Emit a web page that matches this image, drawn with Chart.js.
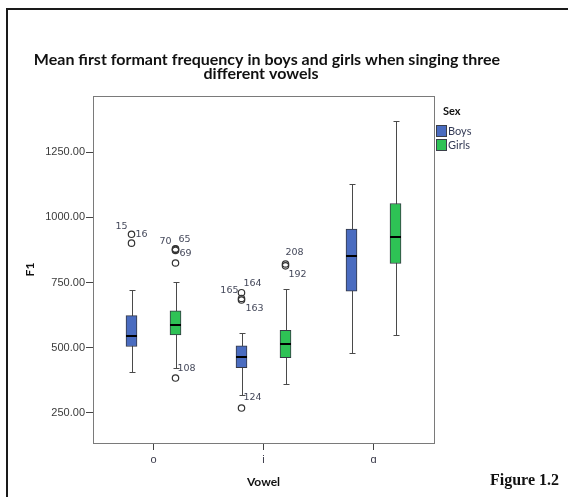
<!DOCTYPE html>
<html>
<head>
<meta charset="utf-8">
<script src="https://cdn.jsdelivr.net/npm/chart.js@4.4.0/dist/chart.umd.min.js"></script>
<style>
  html, body { margin: 0; padding: 0; background: #fff; }
  #wrap { width: 568px; height: 497px; }
</style>
</head>
<body>
<div id="wrap"><canvas id="chart"></canvas></div>
<script>
// categories and ticks
const vowels = ["o", "i", "ɑ"];
const sexes = ["Boys", "Girls"];
const yTicks = [250, 500, 750, 1000, 1250];

// box plot summaries (per vowel)
const boysLow = [407, 319, 479];
const boysQ1 = [505, 424, 717];
const boysMedian = [545, 466, 851];
const boysQ3 = [623, 507, 955];
const boysHigh = [721, 558, 1127];

const girlsLow = [424, 362, 549];
const girlsQ1 = [549, 462, 823];
const girlsMedian = [586, 513, 924];
const girlsQ3 = [642, 567, 1053];
const girlsHigh = [752, 724, 1369];

// outliers: vowel index, sex index, value, case label
const outVowel = [0, 0, 0, 0, 0, 0, 0, 1, 1, 1, 1, 1, 1];
const outSex = [0, 0, 1, 1, 1, 1, 1, 0, 0, 0, 0, 1, 1];
const outValue = [935, 901, 879, 877, 873, 825, 384, 711, 689, 683, 269, 821, 814];
const outLabel = ["16", "15", "65", "70", "69", "", "108", "164", "165", "163", "124", "208", "192"];

// label placement (style only)
const labelDx = [4, -4, 3, -4, 4, 0, 2, 2, -3, 4, 2, 0, 3];
const labelDy = [0, -17, -9, -8, 3, 0, -10, -9, -8, 9, -11, -11, 9];
const labelAlign = ["left", "right", "left", "right", "left", "left", "left", "left", "right", "left", "left", "left", "left"];

const colors = ["#4a6cc0", "#2ec255"];
const sexOffset = [-0.2, 0.2];

const stats = [
  { low: boysLow, q1: boysQ1, med: boysMedian, q3: boysQ3, high: boysHigh },
  { low: girlsLow, q1: girlsQ1, med: girlsMedian, q3: girlsQ3, high: girlsHigh }
];

const boxDatasets = sexes.map((s, k) => ({
  type: "bar",
  label: s,
  data: vowels.map((v, i) => ({ x: i + 1 + sexOffset[k], y: [stats[k].q1[i], stats[k].q3[i]] })),
  backgroundColor: colors[k],
  borderColor: "#353844",
  borderWidth: 1,
  borderSkipped: false,
  barThickness: 11,
  grouped: false,
  order: 2
}));

const outlierSet = {
  type: "scatter",
  label: "outliers",
  data: outValue.map((v, j) => ({ x: outVowel[j] + 1 + sexOffset[outSex[j]], y: v })),
  pointRadius: 3.2,
  pointBackgroundColor: "rgba(0,0,0,0)",
  pointBorderColor: "#333",
  pointBorderWidth: 1.2,
  order: 1
};

const boxParts = {
  id: "boxParts",
  beforeDatasetsDraw(chart) {
    const ctx = chart.ctx, xs = chart.scales.x, ys = chart.scales.y;
    ctx.save();
    ctx.strokeStyle = "#4a4a4a";
    ctx.lineWidth = 1;
    stats.forEach((st, k) => {
      vowels.forEach((v, i) => {
        const x = Math.round(xs.getPixelForValue(i + 1 + sexOffset[k])) + 0.5;
        const yl = Math.round(ys.getPixelForValue(st.low[i])) + 0.5;
        const yh = Math.round(ys.getPixelForValue(st.high[i])) + 0.5;
        ctx.beginPath();
        ctx.moveTo(x, yl); ctx.lineTo(x, yh);
        ctx.moveTo(x - 3, yl); ctx.lineTo(x + 3, yl);
        ctx.moveTo(x - 3, yh); ctx.lineTo(x + 3, yh);
        ctx.stroke();
      });
    });
    ctx.restore();
  },
  afterDatasetsDraw(chart) {
    const ctx = chart.ctx, xs = chart.scales.x, ys = chart.scales.y;
    ctx.save();
    ctx.strokeStyle = "#000";
    ctx.lineWidth = 2;
    stats.forEach((st, k) => {
      vowels.forEach((v, i) => {
        const x = xs.getPixelForValue(i + 1 + sexOffset[k]);
        const y = Math.round(ys.getPixelForValue(st.med[i]));
        ctx.beginPath();
        ctx.moveTo(x - 5.5, y); ctx.lineTo(x + 5.5, y);
        ctx.stroke();
      });
    });
    ctx.font = '9.5px "DejaVu Sans"';
    ctx.fillStyle = "#44485a";
    ctx.textBaseline = "middle";
    outValue.forEach((v, j) => {
      if (!outLabel[j]) return;
      const x = xs.getPixelForValue(outVowel[j] + 1 + sexOffset[outSex[j]]);
      const y = ys.getPixelForValue(v);
      ctx.textAlign = labelAlign[j];
      ctx.fillText(outLabel[j], x + labelDx[j], y + labelDy[j]);
    });
    ctx.restore();
  },
  afterDraw(chart) {
    const ctx = chart.ctx, a = chart.chartArea;
    ctx.save();
    // plot frame
    ctx.strokeStyle = "#7a7a7a";
    ctx.lineWidth = 1;
    ctx.strokeRect(Math.round(a.left) + 0.5, Math.round(a.top) + 0.5, Math.round(a.right - a.left), Math.round(a.bottom - a.top));
    // outer page frame
    ctx.strokeStyle = "#1a1a1a";
    ctx.lineWidth = 2;
    ctx.beginPath();
    ctx.moveTo(7, 497); ctx.lineTo(7, 9); ctx.lineTo(568, 9);
    ctx.stroke();
    // title
    ctx.fillStyle = "#111";
    ctx.textAlign = "center";
    ctx.textBaseline = "middle";
    ctx.font = 'bold 16px Lato';
    ctx.fillText("Mean first formant frequency in boys and girls when singing three", 267, 60);
    ctx.fillText("different vowels", 261, 74);
    // legend
    ctx.textAlign = "left";
    ctx.font = 'bold 11px Lato';
    ctx.fillText("Sex", 443, 111);
    ctx.font = '11px Lato';
    sexes.forEach((s, k) => {
      const y = 125 + k * 14;
      ctx.fillStyle = colors[k];
      ctx.fillRect(436, y, 10, 11);
      ctx.strokeStyle = "#3b3f4a";
      ctx.lineWidth = 1;
      ctx.strokeRect(436.5, y + 0.5, 10, 11);
      ctx.fillStyle = "#333a55";
      ctx.fillText(s, 448, y + 6);
    });
    // figure label
    ctx.fillStyle = "#111";
    ctx.font = 'bold 16px "Liberation Serif"';
    ctx.fillText("Figure 1.2", 490, 481);
    ctx.restore();
  }
};

new Chart(document.getElementById("chart"), {
  type: "scatter",
  data: { datasets: [...boxDatasets, outlierSet] },
  options: {
    responsive: true,
    maintainAspectRatio: false,
    animation: false,
    layout: { padding: { top: 96, left: 23, right: 134, bottom: 8 } },
    plugins: { legend: { display: false }, tooltip: { enabled: false }, title: { display: false } },
    scales: {
      x: {
        type: "linear",
        min: 0.45,
        max: 3.55,
        offset: false,
        afterBuildTicks: s => { s.ticks = vowels.map((v, i) => ({ value: i + 1 })); },
        afterFit: s => { s.height = 46; },
        ticks: {
          callback: (val) => vowels[Math.round(val) - 1],
          font: { family: "Liberation Sans", size: 11 },
          color: "#3a3a4a",
          padding: 3,
          maxRotation: 0
        },
        grid: { drawOnChartArea: false, offset: false, tickLength: 7, color: "#444" },
        border: { color: "#666" },
        title: { display: true, text: "Vowel", font: { family: "Lato", size: 12, weight: "bold" }, color: "#111", padding: 0 }
      },
      y: {
        min: 135,
        max: 1465,
        afterBuildTicks: s => { s.ticks = yTicks.map(v => ({ value: v })); },
        afterFit: s => { s.width = 70; },
        ticks: {
          callback: (val) => val.toFixed(2),
          font: { family: "Liberation Sans", size: 11 },
          color: "#3a3a3a",
          padding: 1
        },
        grid: { drawOnChartArea: false, tickLength: 7, color: "#444" },
        border: { color: "#666" },
        title: { display: true, text: "F1", font: { family: "Lato", size: 12, weight: "bold" }, color: "#111", padding: 0 }
      }
    }
  },
  plugins: [boxParts]
});
</script>
</body>
</html>
